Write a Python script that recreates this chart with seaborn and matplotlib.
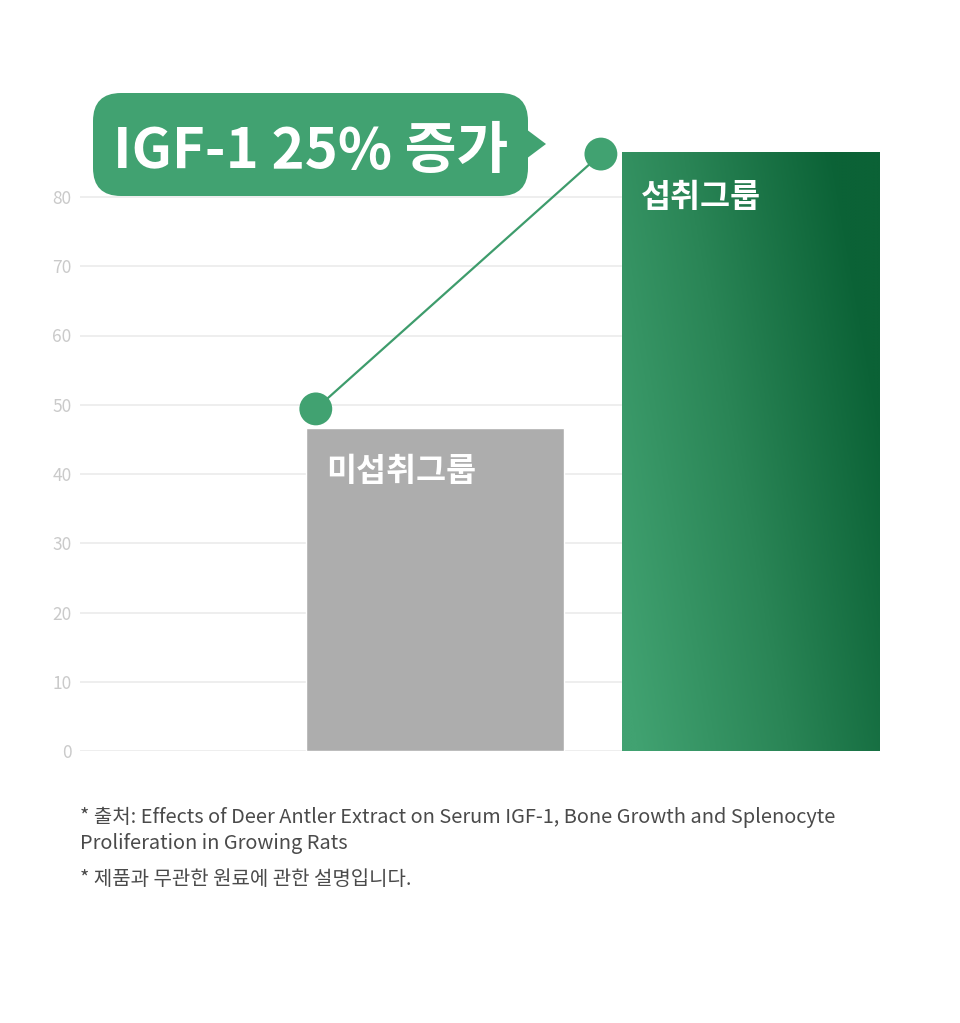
import matplotlib
matplotlib.use("Agg")
import matplotlib.pyplot as plt
import matplotlib.transforms as mtransforms
from matplotlib.colors import LinearSegmentedColormap
from matplotlib.patches import FancyBboxPatch, Polygon
import numpy as np
import pandas as pd
import seaborn as sns

# data
groups = ["미섭취그룹", "섭취그룹"]
igf_values = [46.6, 86.5]
marker_values = [49.4, 86.2]
y_ticks = [0, 10, 20, 30, 40, 50, 60, 70, 80]
callout_text = "IGF-1 25% 증가"
footnotes = [
    "* 출처: Effects of Deer Antler Extract on Serum IGF-1, Bone Growth and Splenocyte",
    "Proliferation in Growing Rats",
    "* 제품과 무관한 원료에 관한 설명입니다.",
]

GRAY = "#adadad"
GREEN = "#41a271"
DARK_GREEN = "#0b6236"
FONT = ["Noto Sans CJK KR", "DejaVu Sans"]

sns.set_theme(style="white")
plt.rcParams["font.family"] = FONT

W, H = 960, 1023
fig = plt.figure(figsize=(W / 100, H / 100), dpi=100)
px = mtransforms.Affine2D().scale(1 / 100) + fig.dpi_scale_trans  # pixel coords, origin bottom-left

ax_l, ax_r, ax_b = 80, 880, H - 751
ax_top = 751 - 6.925 * 100
ax = fig.add_axes([ax_l / W, ax_b / H, (ax_r - ax_l) / W, (751 - ax_top) / H])

df = pd.DataFrame({"group": groups, "value": igf_values})
sns.barplot(data=df, x="group", y="value", hue="group", palette=[GRAY, GREEN],
            width=0.816, legend=False, ax=ax, zorder=2, saturation=1)

xlim = (-1.123, 1.408)
ylim = (0, 100)

# gradient fill on the green bar
gray_bar, bar = ax.patches[0], ax.patches[1]
bx, by = bar.get_x(), bar.get_y()
bw, bh = bar.get_width(), bar.get_height()
bar.set_facecolor("none")
nx, ny = 200, 400
u = np.linspace(0, 1, nx)[None, :]
v = np.linspace(1, 0, ny)[:, None]
t = np.clip(0.85 * u + 0.35 * v - 0.05, 0, 1)
cmap = LinearSegmentedColormap.from_list("g", [GREEN, "#2a8556", DARK_GREEN])
im = ax.imshow(t, cmap=cmap, vmin=0, vmax=1, extent=[bx, bx + bw, by, by + bh],
               aspect="auto", zorder=2, interpolation="bilinear")
im.set_clip_path(bar)

# trend line with dots
dot_x = [0 - 0.377, 1 - 0.475]
ax.plot(dot_x, marker_values, color="#3e9c6c", lw=1.6, zorder=4)
sns.scatterplot(x=dot_x, y=marker_values, s=560, color="#41a271", edgecolor="none",
                ax=ax, zorder=5)

# bar labels
ax.text(gray_bar.get_x() + 0.065, igf_values[0] - 6.3, groups[0], color="white",
        fontsize=23.5, fontweight="bold", va="center", ha="left", zorder=6)
ax.text(bx + 0.06, igf_values[1] - 6.6, groups[1], color="white", fontsize=23.5,
        fontweight="bold", va="center", ha="left", zorder=6)

ax.set_xlim(*xlim)
ax.set_ylim(*ylim)
ax.set_yticks(y_ticks)
ax.set_xticks([])
ax.set_xlabel("")
ax.set_ylabel("")
ax.tick_params(axis="y", length=0, pad=6, labelsize=12.5, labelcolor="#cacaca")
for tick in y_ticks:
    ax.axhline(tick, color="#ededed", lw=1.3, zorder=0)
for s in ax.spines.values():
    s.set_visible(False)
ax.set_facecolor("none")

# callout bubble
box = FancyBboxPatch((93, H - 196), 435, 103, boxstyle="round,pad=0,rounding_size=28",
                     transform=px, facecolor="#41a271", edgecolor="none", zorder=10)
fig.patches.append(box)
tail = Polygon([(526, H - 129), (546, H - 144), (526, H - 159)], closed=True,
               transform=px, facecolor="#41a271", edgecolor="none", zorder=10)
fig.patches.append(tail)
fig.text(311, H - 168, callout_text, transform=px, color="white", fontsize=40.5,
         fontweight="bold", ha="center", va="baseline", zorder=11)

# footnotes
note_kw = dict(transform=px, fontsize=14.4, color="#4a4a4a", va="baseline")
fig.text(80, H - 823, footnotes[0], **note_kw)
fig.text(80, H - 849, footnotes[1], **note_kw)
fig.text(80, H - 885, footnotes[2], **note_kw)

fig.savefig("out.png", dpi=100, facecolor="white")
